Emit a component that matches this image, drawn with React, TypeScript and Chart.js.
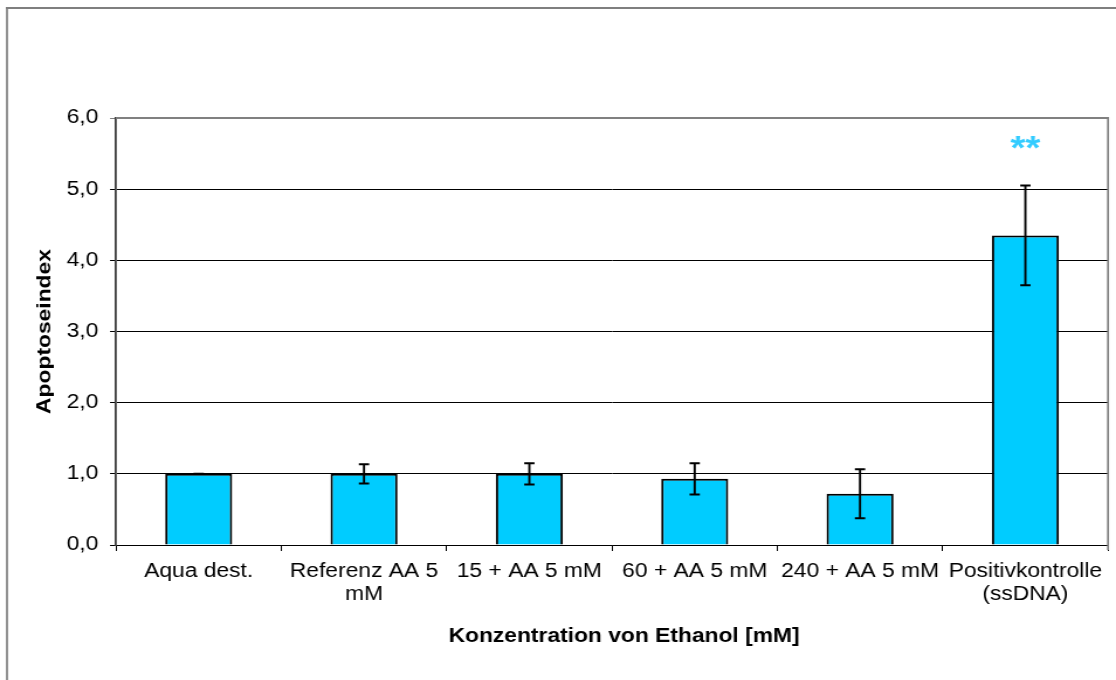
import React, { useEffect, useRef } from "react";
import { Chart, registerables } from "chart.js";

Chart.register(...registerables);

const categories: (string | string[])[] = [
  "Aqua dest.",
  ["Referenz AA 5", "mM"],
  "15 + AA 5 mM",
  "60 + AA 5 mM",
  "240 + AA 5 mM",
  ["Positivkontrolle", "(ssDNA)"],
];
const values = [1.0, 1.0, 1.0, 0.93, 0.72, 4.35];
const errors = [0.0, 0.135, 0.15, 0.22, 0.345, 0.7];
const significance = ["", "", "", "", "", "**"];
const yTicks = [0, 1, 2, 3, 4, 5, 6];
const yTitle = "Apoptoseindex";
const xTitle = "Konzentration von Ethanol [mM]";

const BAR_COLOR = "#00CCFF";
const FONT = "'Liberation Sans', Arial, sans-serif";
const FONT_SIZE = 19.5;

// the reference text is drawn wide: render the canvas narrower and stretch it horizontally
const VIEW_W = 1116;
const VIEW_H = 680;
const CANVAS_W = 954;
const S = VIEW_W / CANVAS_W;

const decorPlugin = {
  id: "decor",
  beforeDraw(chart: any) {
    const { ctx } = chart;
    ctx.save();
    ctx.fillStyle = "#ffffff";
    ctx.fillRect(0, 0, chart.width, chart.height);
    ctx.strokeStyle = "#7f7f7f";
    ctx.lineWidth = 1.7;
    ctx.beginPath();
    ctx.moveTo(6, chart.height + 5);
    ctx.lineTo(6, 8);
    ctx.stroke();
    ctx.lineWidth = 2;
    ctx.beginPath();
    ctx.moveTo(5, 8);
    ctx.lineTo(chart.width + 5, 8);
    ctx.stroke();
    ctx.restore();
  },
  afterDatasetsDraw(chart: any) {
    const { ctx, chartArea } = chart;
    const meta = chart.getDatasetMeta(0);
    const y = chart.scales.y;
    ctx.save();
    // plot area top & right border
    ctx.strokeStyle = "#808080";
    ctx.lineWidth = 2;
    ctx.beginPath();
    ctx.moveTo(chartArea.left, chartArea.top);
    ctx.lineTo(chartArea.right, chartArea.top);
    ctx.stroke();
    ctx.lineWidth = 1.7;
    ctx.beginPath();
    ctx.moveTo(chartArea.right, chartArea.top - 1);
    ctx.lineTo(chartArea.right, chartArea.bottom + 5);
    ctx.stroke();
    // error bars
    ctx.strokeStyle = "#000000";
    meta.data.forEach((bar: any, i: number) => {
      const v = values[i];
      const e = errors[i];
      const x = bar.x;
      const yTop = y.getPixelForValue(v + e);
      const yBot = y.getPixelForValue(v - e);
      ctx.lineWidth = 1.9;
      ctx.beginPath();
      ctx.moveTo(x, yTop);
      ctx.lineTo(x, yBot);
      ctx.stroke();
      ctx.lineWidth = 2;
      ctx.beginPath();
      ctx.moveTo(x - 4.4, yTop);
      ctx.lineTo(x + 4.4, yTop);
      ctx.moveTo(x - 4.4, yBot);
      ctx.lineTo(x + 4.4, yBot);
      ctx.stroke();
      if (significance[i]) {
        ctx.fillStyle = "#33CCFF";
        ctx.font = `bold 33px ${FONT}`;
        ctx.textAlign = "center";
        ctx.textBaseline = "alphabetic";
        ctx.fillText(significance[i], x, yTop - 27);
      }
    });
    // x axis title
    ctx.fillStyle = "#000000";
    ctx.font = `bold ${FONT_SIZE}px ${FONT}`;
    ctx.textAlign = "center";
    ctx.textBaseline = "middle";
    ctx.fillText(xTitle, (chartArea.left + chartArea.right) / 2 + 12 / S, 637);
    // y axis title (stretched along its length like the rest of the text)
    ctx.translate(45 / S, (chartArea.top + chartArea.bottom) / 2);
    ctx.scale(1 / S, 1);
    ctx.rotate(-Math.PI / 2);
    ctx.scale(S, 1);
    ctx.fillText(yTitle, 0, 0);
    ctx.restore();
  },
};

export default function App() {
  const ref = useRef<HTMLCanvasElement>(null);
  useEffect(() => {
    if (!ref.current) return;
    const chart = new Chart(ref.current, {
      type: "bar",
      data: {
        labels: categories as any,
        datasets: [
          {
            data: values,
            backgroundColor: BAR_COLOR,
            borderColor: "#000000",
            borderWidth: 2,
            barPercentage: 0.405,
            categoryPercentage: 1,
          },
        ],
      },
      options: {
        animation: false,
        responsive: false,
        layout: { padding: { left: 50, top: 118, right: 6.8, bottom: 0 } },
        plugins: { legend: { display: false }, tooltip: { enabled: false } },
        scales: {
          x: {
            grid: {
              offset: true,
              drawOnChartArea: false,
              drawTicks: true,
              tickLength: 6,
              color: "#000000",
              lineWidth: 1,
            },
            border: { color: "#000000", width: 1 },
            ticks: {
              color: "#000000",
              font: { family: FONT, size: FONT_SIZE },
              padding: 9,
              maxRotation: 0,
              autoSkip: false,
            },
            title: { display: false, text: xTitle },
            afterFit: (s: any) => {
              s.height = 135;
            },
          },
          y: {
            min: 0,
            max: 6,
            afterBuildTicks: (s: any) => {
              s.ticks = yTicks.map((v) => ({ value: v }));
            },
            grid: {
              color: (c: any) => (c.tick && c.tick.value === 6 ? "#808080" : "#000000"),
              lineWidth: 1,
              tickLength: 5.1,
              drawTicks: true,
            },
            border: { color: "#404040", width: 1.8 },
            ticks: {
              color: "#000000",
              font: { family: FONT, size: FONT_SIZE },
              padding: 10,
              callback: (v: any) => Number(v).toFixed(1).replace(".", ","),
            },
            title: { display: false, text: yTitle },
            afterFit: (s: any) => {
              s.width = 116 / S - 50;
            },
          },
        },
      },
      plugins: [decorPlugin],
    });
    return () => chart.destroy();
  }, []);
  return (
    <div style={{ position: "absolute", left: 0, top: 0, width: VIEW_W, height: VIEW_H }}>
      <canvas
        ref={ref}
        width={CANVAS_W}
        height={VIEW_H}
        style={{ display: "block", width: VIEW_W + "px", height: VIEW_H + "px" }}
      />
    </div>
  );
}
